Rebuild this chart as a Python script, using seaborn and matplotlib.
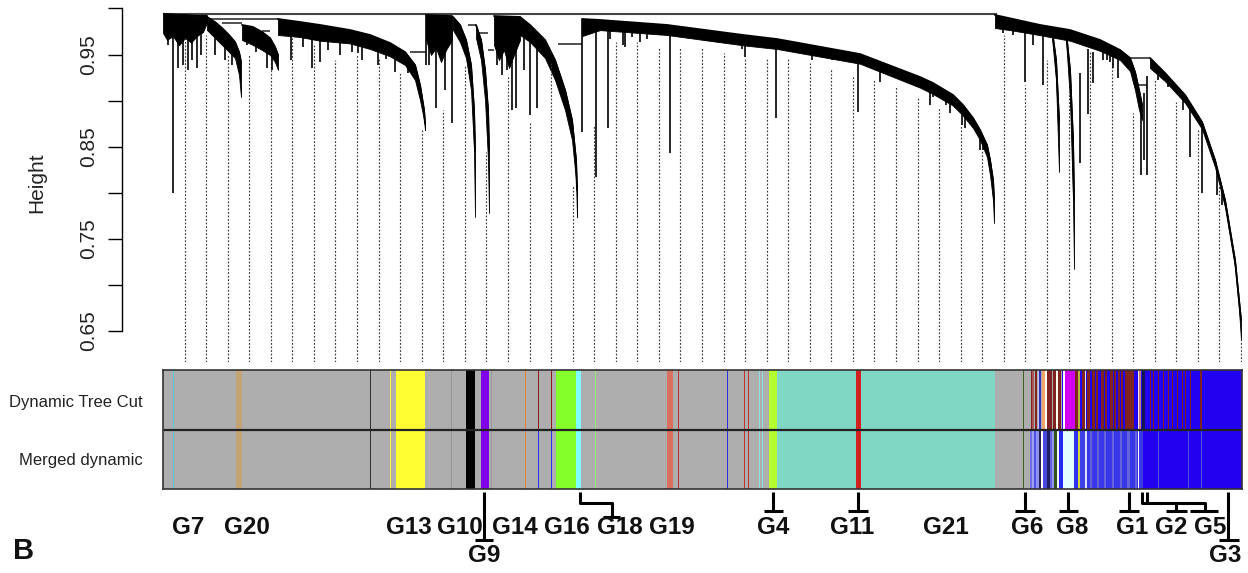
import numpy as np
import matplotlib
matplotlib.use("Agg")
import matplotlib.pyplot as plt
import seaborn as sns

# ---------------- dendrogram (leaf order 0..1078, y = merge height) ----------------
n_leaves = 1078
root_height = 0.9935

# black branch masses: leaf order, upper edge, lower edge
a1_x = [0, 4, 10, 16, 22, 28, 34, 40, 44]
a1_top = [0.994, 0.994, 0.9935, 0.993, 0.993, 0.9925, 0.992, 0.992, 0.992]
a1_bot = [0.9734, 0.966, 0.970, 0.960, 0.968, 0.963, 0.970, 0.9745, 0.985]

a2_x = [44, 52, 59, 66, 72, 76, 78]
a2_top = [0.9908, 0.9853, 0.9788, 0.9712, 0.9636, 0.9527, 0.9418]
a2_bot = [0.9766, 0.9679, 0.9603, 0.9527, 0.9462, 0.9277, 0.9038]

a3_x = [79, 90, 99, 107, 112, 115]
a3_top = [0.9821, 0.9799, 0.9745, 0.9679, 0.9582, 0.9495]
a3_bot = [0.9658, 0.9603, 0.9549, 0.9495, 0.9418, 0.9332]

a4_x = [115, 137, 157, 187, 207, 227, 242, 252, 257, 261, 262]
a4_top = [0.9886, 0.9853, 0.9821, 0.9766, 0.9712, 0.9625, 0.9527, 0.9386, 0.9168, 0.8897, 0.875]
a4_bot = [0.9712, 0.9690, 0.9650, 0.9620, 0.9560, 0.9480, 0.9386, 0.9223, 0.9005, 0.8788, 0.8679]

b1_x = [263, 268, 273, 278, 283, 289]
b1_top = [0.9929, 0.9927, 0.9925, 0.9922, 0.992, 0.9918]
b1_bot = [0.9658, 0.9495, 0.9571, 0.9418, 0.9549, 0.9658]

b2_x = [290, 297, 303, 308, 311, 312]
b2_top = [0.9908, 0.9821, 0.9658, 0.9386, 0.8897, 0.8462]
b2_bot = [0.9766, 0.9636, 0.9462, 0.9114, 0.8462, 0.7734]

b3_x = [313, 318, 322, 325, 326]
b3_top = [0.9821, 0.9658, 0.9332, 0.8897, 0.8462]
b3_bot = [0.9679, 0.944, 0.9005, 0.8353, 0.7777]

b4_x = [331, 336, 341, 346, 351, 357]
b4_top = [0.9918, 0.9916, 0.9914, 0.9912, 0.991, 0.9908]
b4_bot = [0.9603, 0.944, 0.9549, 0.9353, 0.9495, 0.9658]

b5_x = [357, 367, 382, 392, 402, 409, 413, 414]
b5_top = [0.9908, 0.9821, 0.9658, 0.944, 0.9114, 0.8788, 0.8353, 0.8027]
b5_bot = [0.9712, 0.9636, 0.9462, 0.9223, 0.8897, 0.8571, 0.8136, 0.7734]

b6_x = [419, 437, 504, 580, 614, 697, 757, 770, 790, 800, 810, 817, 824, 827, 830, 831]
b6_top = [0.9886, 0.9875, 0.9821, 0.9712, 0.9668, 0.9505, 0.9255, 0.919, 0.906, 0.8951,
          0.881, 0.8679, 0.8516, 0.8353, 0.8136, 0.7918]
b6_bot = [0.9700, 0.9765, 0.9712, 0.9600, 0.9560, 0.9400, 0.9140, 0.907, 0.8945, 0.8835,
          0.8701, 0.8571, 0.8386, 0.8190, 0.7918, 0.7668]

c1_x = [832, 850, 877, 907, 937, 957, 967, 972, 976, 979]
c1_top = [0.9929, 0.9886, 0.9821, 0.9766, 0.9658, 0.9549, 0.9462, 0.931, 0.9114, 0.8951]
c1_bot = [0.9788, 0.9760, 0.9710, 0.9650, 0.9540, 0.9440, 0.9320, 0.9114, 0.890, 0.8788]

c2_x = [889, 893, 896]
c2_top = [0.9766, 0.944, 0.8788]
c2_bot = [0.9679, 0.9223, 0.8223]

c3_x = [903, 907, 910, 911]
c3_top = [0.9745, 0.9332, 0.8571, 0.7918]
c3_bot = [0.9658, 0.9005, 0.7918, 0.7169]

c5_x = [987, 1002, 1022, 1039, 1052, 1062, 1072, 1076, 1078]
c5_top = [0.9462, 0.9299, 0.906, 0.8766, 0.8353, 0.7918, 0.7266, 0.6832, 0.6614]
c5_bot = [0.9353, 0.9210, 0.8975, 0.8690, 0.8276, 0.7840, 0.7185, 0.6728, 0.6397]

branches = [(a1_x, a1_top, a1_bot), (a2_x, a2_top, a2_bot), (a3_x, a3_top, a3_bot),
            (a4_x, a4_top, a4_bot), (b1_x, b1_top, b1_bot), (b2_x, b2_top, b2_bot),
            (b3_x, b3_top, b3_bot), (b4_x, b4_top, b4_bot), (b5_x, b5_top, b5_bot),
            (b6_x, b6_top, b6_bot), (c1_x, c1_top, c1_bot), (c2_x, c2_top, c2_bot),
            (c3_x, c3_top, c3_bot), (c5_x, c5_top, c5_bot)]

# single leaves hanging below the masses
spike_x = [5, 10, 15, 20, 25, 29, 34, 38, 52, 62, 69, 84, 93, 104, 109,
           128, 140, 149, 157, 165, 177, 189, 195, 199, 215, 223, 232, 245,
           263, 266, 273, 282, 289,
           334, 339, 344, 349, 353, 361, 367, 374, 419, 433, 445, 447, 460, 462,
           469, 477, 484, 507, 527, 542, 567, 579, 582, 613, 649, 669, 695, 717,
           742, 767, 770, 783, 787, 792, 799, 802, 812, 817, 820,
           840, 850, 862, 870, 880, 917, 925, 930, 940, 944, 947, 950, 955,
           978, 981, 984, 995, 1005, 1012, 1020, 1027, 1039, 1045, 1054, 1059, 1065]
spike_bot = [0.9603, 0.7995, 0.9353, 0.9386, 0.9332, 0.944, 0.9353, 0.9495, 0.9495, 0.944,
             0.9386, 0.9603, 0.9527, 0.9353, 0.9332,
             0.944, 0.958, 0.9353, 0.9418, 0.955, 0.9495, 0.9527, 0.952, 0.944, 0.9386,
             0.945, 0.931, 0.930,
             0.9386, 0.9386, 0.8918, 0.9114, 0.8755,
             0.9386, 0.9277, 0.9332, 0.8897, 0.8918, 0.9332, 0.8842, 0.8918, 0.8657,
             0.8168, 0.8701, 0.9668, 0.9603, 0.9582,
             0.9690, 0.9636, 0.9668, 0.8429, 0.9690, 0.9646, 0.9690, 0.9560, 0.9473,
             0.881, 0.9440, 0.944, 0.8875, 0.9201,
             0.9201, 0.8951, 0.9038, 0.8951, 0.8864, 0.8918, 0.8734, 0.8701, 0.8701,
             0.8462, 0.8462,
             0.9734, 0.9712, 0.9201, 0.9603, 0.9168, 0.9299, 0.9560, 0.9530, 0.9440,
             0.944, 0.9418, 0.9350, 0.9245,
             0.819, 0.8353, 0.819, 0.9223, 0.915, 0.9114, 0.890, 0.8386, 0.7995, 0.855,
             0.7973, 0.7864, 0.775]

# horizontal joins between sub-branches
merge_x0 = [45, 59, 99, 247, 305, 314, 325, 395, 967, 975]
merge_x1 = [115, 79, 107, 263, 313, 325, 331, 419, 987, 984]
merge_h = [0.9886, 0.9842, 0.9756, 0.9527, 0.9821, 0.9734, 0.9549, 0.9614, 0.9462, 0.9168]

# dotted guide lines (50 guides), top heights
guide_top = [0.969, 0.9712, 0.9495, 0.9495, 0.9527, 0.9679, 0.9625, 0.944, 0.9495, 0.9473,
             0.931, 0.8679, 0.8897, 0.9386, 0.844, 0.9277, 0.8755, 0.9408, 0.8082, 0.8734,
             0.9636, 0.9636, 0.9571, 0.9571, 0.9582, 0.9516, 0.9462, 0.9462, 0.9451, 0.9408,
             0.9353, 0.9277, 0.9223, 0.9147, 0.9038, 0.8918, 0.8734, 0.8462, 0.9712, 0.9168,
             0.944, 0.9092, 0.9527, 0.9408, 0.8864, 0.9223, 0.8984, 0.8679, 0.8082, 0.6429]

# ---------------- module colour rows ----------------
GREY = "#AEAEAE"
DR = "#7E2222"
BLUE = "#2200F0"
LB = "#6464DC"
shared_stripes = [
    (9.5, 10.5, "#5CC8D8"), (72.7, 78.7, "#C4A474"), (113.5, 114.3, "#C8A878"),
    (206.5, 207.7, "#303030"), (226.5, 227.5, "#FFFF33"), (229.5, 230.3, "#FFFF33"),
    (232.5, 233.5, "#FFFF33"), (234, 261.7, "#FFFF33"), (288.3, 289.2, "#989898"),
    (302.7, 311.7, "#000000"), (318, 326.3, "#7F00E8"), (328.3, 329.3, "#989898"),
    (361.7, 362.5, "#E08030"), (393, 413, "#84FF2A"), (413, 418, "#80FFFF"),
    (431.5, 433, "#98E878"), (503.7, 509.7, "#D8705F"), (514.5, 515.5, "#C03030"),
    (564.3, 565.3, "#3030E0"), (580.5, 581.5, "#C03030"), (584.5, 585.5, "#C03030"),
    (596, 596.8, "#90E0E0"), (599, 599.8, "#90E0E0"), (606, 614.3, "#B4FF30"),
    (614.3, 832, "#7FD7C4"), (622.5, 623.3, "#A8E8E0"), (625.5, 626.3, "#A8E8E0"),
    (628.6, 629.4, "#C04040"), (660.6, 661.4, "#B03030"), (692.5, 697.5, "#D02020"),
    (859.7, 860.5, "#406020"),
]
dynamic_stripes = [
    (375, 375.8, "#8B1A1A"), (388, 388.8, "#8B1A1A"), (391.6, 392.4, "#8B1A1A"),
    (867.5, 868.7, DR), (869.3, 871.3, "#A85858"), (872, 873.7, DR), (874.5, 876, "#C8C8E8"),
    (876, 878, "#3030C0"), (879.3, 882, "#F2A56A"), (882, 883.5, "#FFFFFF"), (883.7, 888.7, DR),
    (890.3, 892.7, DR), (893, 894.7, "#FFFFF0"), (895, 898, DR), (898.7, 900.3, BLUE),
    (900.3, 902, "#FFFFFF"), (902, 912, "#D200F0"), (912, 914.7, DR), (915.3, 917, "#B8B840"),
    (917, 1078.5, BLUE), (919, 921.5, DR), (921.5, 922.5, "#E0E0FF"), (924, 927, DR),
    (929, 932, DR), (933, 935, DR), (938, 941, DR), (942, 944, DR), (947, 950, DR),
    (951, 953, DR), (955, 957, DR), (958, 960, DR), (962, 970.5, DR), (974.5, 976, "#F0E0E0"),
    (976, 978, "#C08080"), (978.5, 981.5, "#151550"), (987, 988, DR), (990, 991, DR),
    (995, 996, DR), (1000, 1001, DR), (1005, 1006, DR), (1009, 1010, DR), (1014, 1015, DR),
    (1019, 1020, DR), (1022, 1023, DR), (1027, 1028, DR), (1037, 1038.5, DR),
]
merged_stripes = [
    (375, 375.8, "#3030F0"), (388, 388.8, "#3030F0"), (391.6, 392.4, "#3A3AC8"),
    (867, 869, "#7070E0"), (869, 871, "#A0A0F0"), (871, 873, "#5050E8"), (873, 875.5, "#9090F0"),
    (876, 878, "#202050"), (878, 880, "#FFFFFF"), (880, 884, "#4848E0"), (884, 887, "#202060"),
    (887, 889, "#6060E0"), (889, 891, "#9898E8"), (891.3, 893.7, "#305020"),
    (893.7, 895.5, "#F0F8F0"), (896, 900.3, "#2828F0"), (900.3, 911.3, "#E4FFFF"),
    (911.3, 915, "#3030F0"), (915.3, 917, "#D8D840"), (917, 922, "#4040E8"),
    (922, 923.5, "#E0E0FF"), (923.5, 980, "#3838E8"), (927, 929, LB), (934, 936, LB),
    (941, 943, LB), (949, 951, LB), (957, 959, LB), (964, 967, LB), (972, 974, LB),
    (975, 976, "#FFFFFF"), (980, 1078.5, BLUE), (995, 996, "#5050E8"), (1025, 1026, "#5050E8"),
    (1026.5, 1027.3, "#FFFFFF"), (1038, 1039, "#5050E8"),
]
row_names = ["Dynamic Tree Cut", "Merged dynamic"]

# ---------------- module labels ----------------
label_names = ["G7", "G20", "G13", "G10", "G9", "G14", "G16", "G18", "G19", "G4",
               "G11", "G21", "G6", "G8", "G1", "G2", "G5", "G3"]
label_pos = [25, 84, 246, 297, 321, 351.5, 404, 457, 509, 610,
             689, 782.5, 864, 909, 969, 1008.5, 1047.5, 1062]
label_row = [0, 0, 0, 0, 1, 0, 0, 0, 0, 0, 0, 0, 0, 0, 0, 0, 0, 1]
connectors = [
    [(321, 3), (321, 51)], [(312, 51), (330, 51)],
    [(417, 3), (417, 14), (449, 14), (449, 28)], [(440, 28), (457, 28)],
    [(610, 3), (610, 22)], [(601, 22), (620, 22)],
    [(695, 3), (695, 22)], [(685, 22), (705, 22)],
    [(862, 3), (862, 22)], [(852, 22), (872, 22)],
    [(905, 3), (905, 22)], [(896, 22), (915, 22)],
    [(966, 3), (966, 22)], [(956, 22), (976, 22)],
    [(979, 3), (979, 14), (1042, 14), (1042, 22)], [(984, 3), (984, 13)],
    [(1013, 14), (1013, 22)], [(1003, 22), (1024, 22)], [(1027, 22), (1055, 22)],
    [(1065, 3), (1065, 51)], [(1056, 51), (1076, 51)],
]

# ---------------- drawing ----------------
sns.set_theme(style="white")
plt.rcParams["font.family"] = ["Liberation Sans", "DejaVu Sans"]

W, H = 1248, 573
fig = plt.figure(figsize=(W / 100, H / 100), dpi=100)


def px_box(x0, y0, x1, y1):
    return [x0 / W, 1 - y1 / H, (x1 - x0) / W, (y1 - y0) / H]


xmax = n_leaves + 0.5
ax = fig.add_axes(px_box(163, 5, 1241.5, 362))
ax_col = fig.add_axes(px_box(163, 370, 1241.5, 489))
ax_lab = fig.add_axes(px_box(163, 489, 1241.5, 573))

ybot = 0.6158
ax.set_xlim(0, xmax)
ax.set_ylim(ybot, 1.0038)

# guides first so the tree sits on top
guide_x = [n_leaves * g / 50 for g in range(1, 51)]
ax.vlines(guide_x, ybot, guide_top, colors="#3a3a3a", lw=0.85,
          linestyles=[(0, (1.5, 1.5))])

ax.hlines(root_height, 0, 834, color="#444444", lw=1.5)
ax.hlines(merge_h, merge_x0, merge_x1, color="#222222", lw=1.1)

env_x, env_top = [], []
for bx, btop, bbot in branches:
    ax.fill_between(bx, bbot, btop, color="black", lw=0.6, edgecolor="black")
    sns.lineplot(x=bx, y=btop, ax=ax, color="black", lw=1.3, estimator=None,
                 sort=False, legend=False)
    env_x += bx
    env_top += btop
order = np.argsort(env_x, kind="stable")
spike_top = np.interp(spike_x, np.array(env_x)[order], np.array(env_top)[order])
ax.vlines(spike_x, spike_bot, spike_top, color="black", lw=1.2)

for s in ["top", "right", "bottom"]:
    ax.spines[s].set_visible(False)
ax.spines["left"].set_bounds(0.65, 1.0)
ax.spines["left"].set_position(("outward", 29.5))
ax.spines["left"].set_color("black")
ax.spines["left"].set_linewidth(1.0)
ticks = np.round(np.arange(0.65, 1.001, 0.05), 2)
ax.set_yticks(ticks)
ax.set_yticklabels([f"{t:.2f}" if i % 2 == 0 else "" for i, t in enumerate(ticks)])
ax.set_xticks([])
ax.tick_params(axis="y", left=True, length=10, width=1, color="black",
               labelsize=15, pad=7, labelrotation=90, labelcolor="#222222")
for lab in ax.get_yticklabels():
    lab.set_va("center")
ax.set_ylabel("")
fig.text(37 / W, 1 - 183 / H, "Height", rotation=90, ha="center", va="center",
         fontsize=15, color="#222222")

# colour rows
ax_col.set_xlim(0, xmax)
ax_col.set_ylim(0, 2)
ax_col.bar(0, 2, width=xmax, bottom=0, align="edge", color=GREY, lw=0)
for bottom, stripes in [(1, shared_stripes + dynamic_stripes),
                        (0, shared_stripes + merged_stripes)]:
    x0 = [s[0] for s in stripes]
    wd = [s[1] - s[0] for s in stripes]
    cl = [s[2] for s in stripes]
    ax_col.bar(x0, 1, width=wd, bottom=bottom, align="edge", color=cl, lw=0)
ax_col.axhline(1, color="#222222", lw=1.6)
ax_col.set_xticks([])
ax_col.set_yticks([])
for s in ax_col.spines.values():
    s.set_visible(True)
    s.set_color("#333333")
    s.set_linewidth(1.2)
for i, name in enumerate(row_names):
    ax_col.text(-20, 1.45 - i * 0.97, name, ha="right", va="center", fontsize=12,
                color="#222222", clip_on=False)

# labels under the colour rows
ax_lab.set_xlim(0, xmax)
ax_lab.set_ylim(84, 0)
ax_lab.axis("off")
for path in connectors:
    ax_lab.plot([p[0] for p in path], [p[1] for p in path], color="black", lw=2.2,
                solid_capstyle="butt", clip_on=False)
for name, pos, row in zip(label_names, label_pos, label_row):
    ax_lab.text(pos, 39 + 28 * row, name, ha="center", va="center", fontsize=17.5,
                fontweight="bold", color="#111111", clip_on=False)

fig.text(24 / W, 1 - 551 / H, "B", ha="center", va="center", fontsize=21,
         fontweight="bold", color="#111111")

fig.savefig("out.png", dpi=100)
